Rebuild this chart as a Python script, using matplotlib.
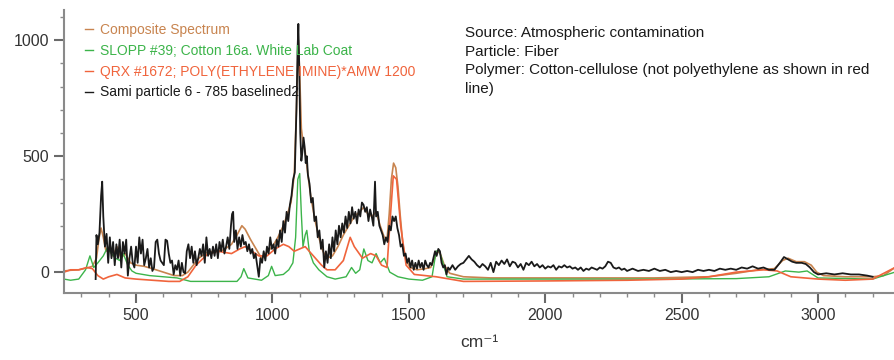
import numpy as np
import matplotlib
matplotlib.use("Agg")
import matplotlib.pyplot as plt
from matplotlib.ticker import MultipleLocator

# (wavenumber cm-1, intensity)
composite = [
    (236, 5), (260, 8), (290, 10), (320, 18), (340, 25), (355, 60), (365, 150), (372, 190),
    (380, 150), (390, 90), (400, 100), (415, 70), (430, 110), (445, 60), (460, 80), (480, 40),
    (500, 30), (530, 25), (560, 15), (600, 0), (640, -15), (670, -15), (690, 0), (710, 30),
    (730, 60), (760, 85), (790, 90), (820, 95), (850, 120), (870, 160), (888, 200), (900, 185),
    (920, 140), (940, 100), (960, 60), (975, 80), (1000, 110), (1020, 150), (1040, 200),
    (1055, 250), (1068, 300), (1080, 420), (1088, 700), (1095, 1000), (1100, 850), (1106, 620),
    (1112, 560), (1120, 520), (1130, 420), (1140, 330), (1155, 230), (1170, 150), (1185, 90),
    (1200, 60), (1220, 70), (1240, 110), (1260, 160), (1280, 200), (1300, 240), (1320, 260),
    (1335, 280), (1350, 250), (1365, 240), (1380, 260), (1395, 200), (1410, 150), (1420, 140),
    (1428, 250), (1436, 400), (1444, 470), (1452, 450), (1460, 370), (1468, 250), (1478, 120),
    (1490, 50), (1505, 20), (1530, 10), (1560, 15), (1580, 20), (1595, 60), (1605, 90),
    (1615, 80), (1630, 30), (1650, -5), (1700, -20), (1800, -25), (2000, -25), (2200, -25),
    (2400, -25), (2600, -20), (2700, -5), (2780, 10), (2840, 15), (2870, 50), (2890, 60),
    (2920, 45), (2950, 45), (2975, 30), (2995, 0), (3020, -15), (3100, -20), (3200, -20),
    (3240, -15), (3282, 20),
]

slopp_cotton = [
    (236, -30), (260, -35), (290, -30), (315, 10), (331, 70), (345, 20), (360, 40), (380, 70),
    (395, 105), (410, 80), (425, 60), (440, 50), (453, 80), (470, 30), (485, 5), (500, -5),
    (550, -15), (600, -20), (650, -25), (700, -40), (800, -40), (870, -40), (885, -20),
    (895, 15), (910, -25), (960, -35), (985, -15), (997, 25), (1010, -15), (1040, -10),
    (1060, 10), (1075, 40), (1085, 150), (1093, 400), (1100, 425), (1106, 250), (1112, 110),
    (1120, 160), (1126, 180), (1135, 90), (1150, 40), (1170, 10), (1200, -20), (1230, -30),
    (1270, -20), (1290, 20), (1305, -5), (1320, 10), (1335, 100), (1350, 50), (1365, 40),
    (1380, 80), (1395, 40), (1410, 60), (1430, 0), (1460, -20), (1500, -30), (1550, -35),
    (1585, -20), (1600, 90), (1610, 95), (1620, 60), (1640, -20), (1700, -30), (2000, -30),
    (2400, -30), (2700, -28), (2820, -20), (2880, 5), (2930, 0), (2960, 5), (3000, -25),
    (3200, -30), (3282, 0),
]

qrx_pei = [
    (236, 0), (260, 10), (290, 10), (320, 20), (340, 15), (360, -15), (380, -30), (400, -20),
    (430, -10), (460, -25), (500, -30), (560, -35), (620, -40), (660, -40), (690, -20),
    (720, 30), (760, 75), (800, 90), (850, 80), (880, 100), (900, 110), (950, 70), (980, 70),
    (1010, 100), (1040, 120), (1060, 110), (1080, 90), (1100, 100), (1120, 110), (1150, 70),
    (1180, 30), (1200, 10), (1230, 10), (1260, 50), (1285, 150), (1300, 110), (1330, 60),
    (1360, 80), (1380, 70), (1400, 30), (1420, 20), (1430, 200), (1443, 415), (1455, 400),
    (1470, 200), (1490, 30), (1520, -10), (1600, -20), (1650, -30), (1700, -40), (2000, -38),
    (2300, -35), (2500, -30), (2600, -20), (2700, 0), (2800, 10), (2850, 5), (2900, -20),
    (3000, -30), (3100, -35), (3200, -30), (3282, 20),
]

sami_particle = [
    (352, -30), (355, 160), (360, 120), (366, 170), (372, 330), (376, 390), (380, 240),
    (386, 110), (392, 165), (398, 40), (404, 150), (410, 60), (416, 130), (422, 30), (428, 120),
    (434, 60), (440, 140), (446, 20), (452, 130), (458, 80), (464, 140), (470, -15), (476, 60),
    (482, 110), (488, 40), (494, 20), (500, 110), (506, 40), (512, 150), (518, 80), (524, 140),
    (530, 30), (536, 60), (542, 100), (548, 20), (554, 60), (560, 5), (566, 20), (572, 130),
    (578, 140), (584, 80), (590, 50), (596, 40), (602, 30), (608, 140), (614, 135), (620, 80),
    (626, 40), (632, 50), (638, -10), (644, 30), (650, 10), (656, 50), (662, -15), (668, 40),
    (674, 0), (680, -5), (686, 90), (692, 120), (698, 60), (704, 110), (710, 40), (716, 90),
    (722, 30), (728, 60), (734, 100), (740, 70), (746, 120), (752, 40), (758, 150), (764, 70),
    (770, 100), (776, 60), (782, 110), (788, 70), (794, 120), (800, 60), (806, 130), (812, 90),
    (818, 140), (824, 80), (830, 110), (836, 150), (842, 100), (848, 200), (852, 250),
    (856, 260), (860, 130), (866, 180), (872, 100), (878, 150), (884, 110), (890, 160),
    (896, 120), (902, 130), (908, 90), (914, 120), (920, 80), (926, 100), (932, 60), (938, 80),
    (944, 30), (950, -20), (956, 60), (962, 40), (968, 90), (974, 50), (980, 110), (986, 80),
    (992, 150), (998, 100), (1004, 120), (1010, 80), (1016, 140), (1022, 110), (1028, 180),
    (1034, 130), (1040, 220), (1046, 170), (1052, 260), (1058, 220), (1064, 290), (1070, 330),
    (1076, 400), (1082, 430), (1088, 700), (1092, 950), (1095, 1070), (1098, 900), (1102, 600),
    (1106, 480), (1110, 520), (1114, 580), (1118, 540), (1122, 470), (1126, 500), (1130, 420),
    (1136, 380), (1142, 300), (1148, 320), (1154, 220), (1160, 240), (1166, 150), (1172, 180),
    (1178, 100), (1184, 140), (1190, 20), (1196, 90), (1202, 40), (1208, 120), (1214, 60),
    (1220, 150), (1226, 90), (1232, 180), (1238, 120), (1244, 200), (1250, 150), (1256, 210),
    (1262, 170), (1268, 240), (1274, 190), (1280, 260), (1286, 210), (1292, 280), (1298, 230),
    (1304, 260), (1310, 210), (1316, 270), (1322, 240), (1328, 300), (1334, 290), (1340, 260),
    (1346, 280), (1352, 220), (1358, 270), (1364, 240), (1370, 200), (1376, 390), (1380, 240),
    (1386, 260), (1392, 200), (1398, 180), (1404, 160), (1410, 120), (1416, 150), (1422, 130),
    (1428, 200), (1434, 180), (1440, 240), (1446, 220), (1452, 240), (1458, 190), (1464, 160),
    (1470, 110), (1476, 120), (1482, 70), (1488, 80), (1494, 40), (1500, 60), (1506, 20),
    (1512, 50), (1518, 10), (1524, 40), (1530, 15), (1536, 50), (1542, 20), (1548, 40),
    (1554, 10), (1560, 50), (1566, 30), (1572, 20), (1578, 40), (1584, 30), (1590, 60),
    (1596, 90), (1602, 70), (1608, 100), (1614, 90), (1620, 40), (1626, 20), (1632, 30),
    (1638, -10), (1644, 20), (1650, 10), (1660, 30), (1670, 10), (1680, 25), (1690, 35),
    (1700, 40), (1710, 55), (1720, 70), (1730, 55), (1740, 45), (1750, 30), (1760, 20),
    (1770, 35), (1780, 25), (1790, 10), (1800, 40), (1810, 0), (1820, 45), (1830, 30),
    (1840, 50), (1850, 35), (1860, 55), (1870, 25), (1880, 45), (1890, 40), (1900, 20),
    (1910, 35), (1920, 10), (1930, 40), (1940, 30), (1950, 45), (1960, 25), (1970, 35),
    (1980, 20), (1990, 30), (2000, 15), (2010, 25), (2020, 20), (2030, 30), (2040, 10),
    (2050, 25), (2060, 20), (2070, 30), (2080, 20), (2090, 25), (2100, 15), (2110, 20),
    (2120, 10), (2130, 20), (2140, 5), (2150, 15), (2160, 10), (2170, 20), (2180, 15),
    (2190, 10), (2200, 20), (2210, 15), (2220, 25), (2230, 45), (2240, 40), (2250, 20),
    (2260, 15), (2270, 20), (2280, 10), (2290, 15), (2300, 5), (2320, 15), (2340, 5),
    (2360, 10), (2380, 5), (2400, 15), (2420, 5), (2440, 10), (2460, 0), (2480, 5), (2500, 0),
    (2520, 5), (2540, 0), (2560, 10), (2580, 5), (2600, 10), (2620, 5), (2640, 15), (2660, 10),
    (2680, 15), (2700, 10), (2720, 20), (2740, 15), (2760, 25), (2780, 15), (2800, 20),
    (2820, 10), (2840, 10), (2860, 40), (2875, 65), (2890, 55), (2905, 45), (2920, 40),
    (2940, 40), (2955, 35), (2970, 20), (2985, 0), (3000, -10), (3030, -5), (3060, -10),
    (3090, -5), (3120, -10), (3150, -10), (3180, -15), (3200, -20),
]

series = [
    ("Composite Spectrum", composite, "#c8844f", 1.2),
    ("SLOPP #39; Cotton 16a. White Lab Coat", slopp_cotton, "#3cb44a", 1.0),
    ("QRX #1672; POLY(ETHYLENE IMINE)*AMW 1200", qrx_pei, "#f0643c", 1.2),
    ("Sami particle 6 - 785 baselined2", sami_particle, "#1a1a1a", 1.3),
]

note = ("Source: Atmospheric contamination\nParticle: Fiber\n"
        "Polymer: Cotton-cellulose (not polyethylene as shown in red\nline)")

plt.rcParams["font.family"] = ["Liberation Sans", "DejaVu Sans"]

fig = plt.figure(figsize=(8.95, 3.6), dpi=100)
ax = fig.add_axes([64 / 895, 67 / 360, 1 - 64 / 895, 283 / 360])

# black particle trace drawn last so it sits on top of the composite
for name, pts, color, lw in series:
    wn, inten = np.array(pts, dtype=float).T
    ax.plot(wn, inten, color=color, lw=lw, label=name)

ax.set_xlim(236, 3282)
ax.set_ylim(-90, 1130)
ax.xaxis.set_major_locator(MultipleLocator(500))
ax.xaxis.set_minor_locator(MultipleLocator(100))
ax.yaxis.set_major_locator(MultipleLocator(500))
ax.yaxis.set_minor_locator(MultipleLocator(100))

for side in ("top", "right"):
    ax.spines[side].set_visible(False)
for side in ("left", "bottom"):
    ax.spines[side].set_color("#8a8a8a")
    ax.spines[side].set_linewidth(1.5)

ax.tick_params(which="major", direction="out", length=7, width=1.5, color="#6a6a6a",
               labelsize=11.5, labelcolor="#333333")
ax.tick_params(which="minor", direction="out", length=3, width=1.0, color="#8a8a8a")

ax.set_xlabel("cm\u207b\u00b9", fontsize=12.5, color="#333333", labelpad=9)

leg = ax.legend(loc="upper left", bbox_to_anchor=(0.018, 0.975), frameon=False,
                fontsize=10, handlelength=0.6, handletextpad=0.5, labelspacing=0.5,
                labelcolor="linecolor", borderaxespad=0)
for h in leg.get_lines():
    h.set_linewidth(1.0)

fig.text(465 / 895, 1 - 26 / 360, note, fontsize=11, color="#1a1a1a",
         ha="left", va="top", linespacing=1.42)

fig.savefig("out.png", dpi=100)
